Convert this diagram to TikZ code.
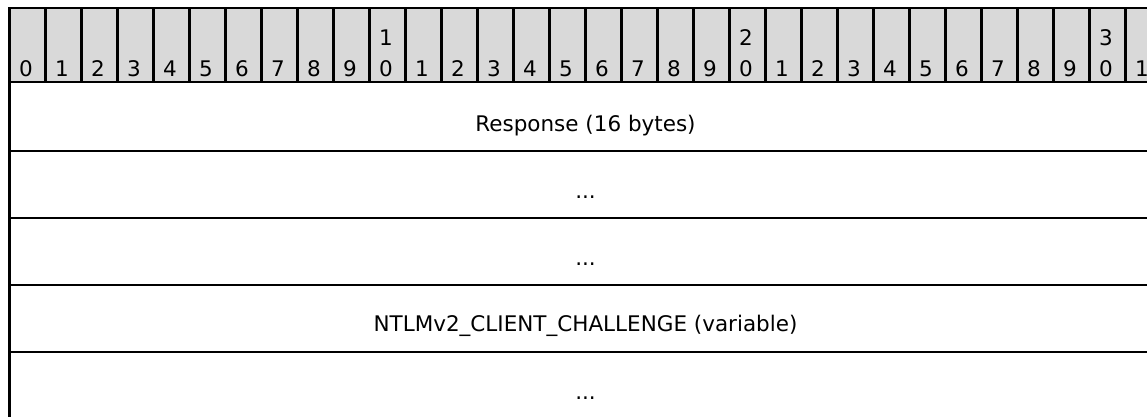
\documentclass[tikz,border=0pt]{standalone}
\usepackage{fontspec}
\setmainfont{DejaVu Sans}
\definecolor{hdrgray}{RGB}{217,217,217}
\begin{document}
\begin{tikzpicture}[x=1pt,y=-1pt,
  hcell/.style={draw=black, line width=2.2pt, fill=hdrgray, minimum width=36pt, minimum height=74pt, inner sep=0pt, outer sep=0pt, anchor=north west},
  field/.style={draw=black, line width=2.6pt, minimum width=1152pt, inner sep=0pt, outer sep=0pt, anchor=north west},
  digit/.style={font=\fontsize{21.5}{26}\selectfont, inner sep=0pt, anchor=base west},
  lbl/.style={font=\fontsize{21.5}{26}\selectfont, inner sep=0pt, anchor=base}]
\useasboundingbox (0,0) rectangle (1147,416);
\clip (0,0) rectangle (1147,416);
\foreach \i in {0,...,31} {
  \node[hcell] (h\i) at ({9.5+36*\i},8) {};
}
\foreach \i in {0,...,31} {
  \pgfmathtruncatemacro\ones{mod(\i,10)}
  \pgfmathtruncatemacro\tens{int(\i/10)}
  \node[digit] (d\i) at ([xshift=9.5pt,yshift=5.5pt]h\i.south west) {\ones};
  \ifnum\ones=0 \ifnum\i>0
    \node[digit] (u\i) at ([xshift=9.5pt,yshift=37pt]h\i.south west) {\tens};
  \fi\fi
}
\node[field, minimum height=69pt] (r1) at (9.5,82) {};
\node[field, minimum height=67pt] (r2) at (9.5,151) {};
\node[field, minimum height=67pt] (r3) at (9.5,218) {};
\node[field, minimum height=67pt] (r4) at (9.5,285) {};
\node[field, minimum height=67pt] (r5) at (9.5,352) {};
\node[lbl] (t1) at ([yshift=19.5pt]r1.south) {Response (16 bytes)};
\node[lbl] (t2) at ([yshift=19.5pt]r2.south) {...};
\node[lbl] (t3) at ([yshift=19.5pt]r3.south) {...};
\node[lbl] (t4) at ([yshift=21pt]r4.south) {NTLMv2\_CLIENT\_CHALLENGE (variable)};
\node[lbl] (t5) at ([yshift=19.5pt]r5.south) {...};
\end{tikzpicture}
\end{document}
